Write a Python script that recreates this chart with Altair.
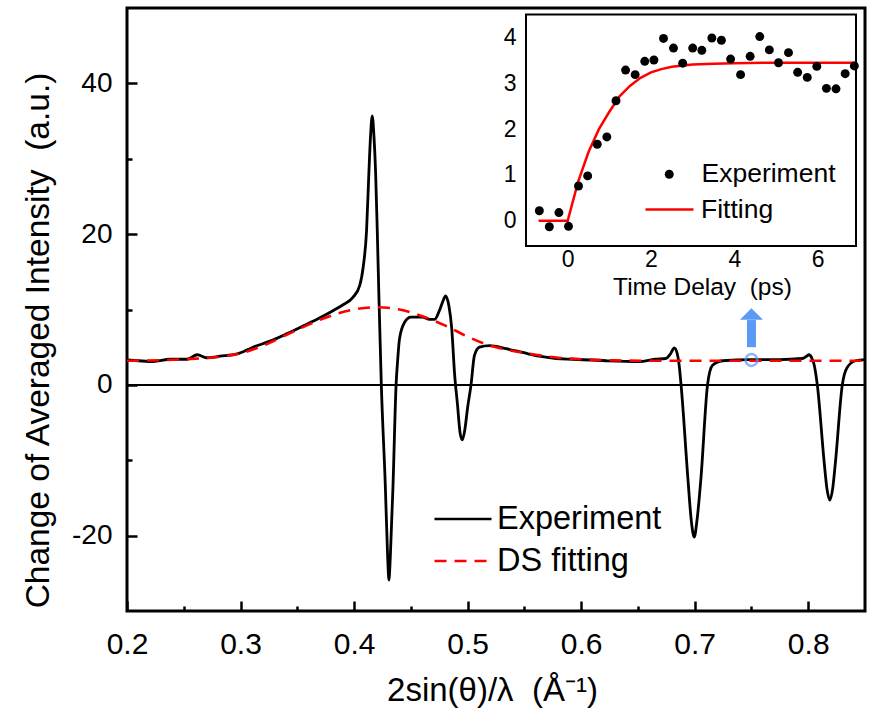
import altair as alt
import pandas as pd

# ---------------- main panel data ----------------
exp_q = [0.200, 0.210, 0.223, 0.238, 0.253, 0.262, 0.270, 0.282, 0.297, 0.311, 0.326, 0.341,
         0.355, 0.370, 0.381, 0.390, 0.399, 0.405, 0.408, 0.411, 0.413, 0.4145, 0.416, 0.4175,
         0.419, 0.4205, 0.422, 0.424, 0.4275, 0.4295, 0.4307, 0.432, 0.4343, 0.437, 0.4385,
         0.440, 0.4445, 0.450, 0.460, 0.4665, 0.471, 0.475, 0.478, 0.4806, 0.4835, 0.486,
         0.4885, 0.491, 0.4935, 0.4953, 0.4975, 0.500, 0.503, 0.506, 0.5105, 0.519, 0.534,
         0.5485, 0.563, 0.578, 0.5925, 0.622, 0.651, 0.665, 0.6745, 0.679, 0.682, 0.6845,
         0.686, 0.688, 0.694, 0.697, 0.6996, 0.702, 0.7055, 0.7113, 0.7157, 0.7245, 0.7494,
         0.7743, 0.7948, 0.7985, 0.8007, 0.803, 0.805, 0.808, 0.814, 0.8165, 0.819, 0.8215,
         0.824, 0.830, 0.8343, 0.8417, 0.850]
exp_v = [3.3, 3.2, 3.1, 3.4, 3.4, 4.0, 3.6, 3.8, 4.1, 5.0, 5.8, 6.8,
         7.8, 8.9, 9.8, 10.6, 11.6, 13.2, 15.6, 20.5, 28.0, 33.0, 35.7, 33.0,
         28.0, 20.0, 11.0, 0.0, -13.3, -22.5, -25.9, -22.5, -13.3, 0.0, 3.5,
         6.1, 8.3, 9.0, 9.0, 8.7, 8.7, 9.8, 11.0, 11.8, 10.5, 7.5,
         1.5, -2.5, -6.5, -7.3, -6.0, -3.0, 0.0, 3.9, 5.0, 5.2, 4.8,
         4.3, 3.8, 3.5, 3.4, 3.2, 3.1, 3.4, 3.5, 4.2, 4.9, 4.2,
         3.0, 0.0, -12.4, -18.0, -20.2, -18.0, -12.4, 0.0, 2.6, 3.2, 3.35,
         3.35, 3.5, 3.8, 4.0, 3.6, 2.8, 0.0, -10.2, -13.8, -15.3, -13.8,
         -10.2, 0.0, 2.3, 3.2, 3.35]
fit_q = [0.20, 0.25, 0.28, 0.30, 0.32, 0.34, 0.36, 0.38, 0.40, 0.42, 0.44, 0.46, 0.48,
         0.50, 0.52, 0.54, 0.56, 0.58, 0.60, 0.63, 0.66, 0.85]
fit_v = [3.2, 3.4, 3.7, 4.2, 5.2, 6.6, 8.0, 9.2, 10.0, 10.3, 10.0, 9.1, 7.9,
         6.4, 5.2, 4.5, 4.0, 3.6, 3.4, 3.25, 3.2, 3.2]
series_names = ["Experiment", "DS fitting"]
series_colors = ["#000000", "#ff0000"]
x_domain = [0.2, 0.85]
y_domain = [-30, 50]
x_major = [0.2, 0.3, 0.4, 0.5, 0.6, 0.7, 0.8]
x_minor = [0.25, 0.35, 0.45, 0.55, 0.65, 0.75]
y_major = [-20, 0, 20, 40]
y_minor = [-10, 10, 30]

# probe marker + arrow (annotation)
probe_q = [0.75]
probe_v = [3.3]
arrow_base = [5.0]
arrow_neck = [8.6]
arrow_tip = [9.4]

# ---------------- inset data ----------------
delay_t = [-0.68, -0.44, -0.21, 0.02, 0.26, 0.48, 0.71, 0.94, 1.16, 1.39, 1.62, 1.85, 2.07,
           2.30, 2.54, 2.76, 3.00, 3.22, 3.46, 3.69, 3.91, 4.15, 4.38, 4.61, 4.84, 5.06,
           5.30, 5.52, 5.75, 5.98, 6.21, 6.44, 6.66, 6.88]
delay_v = [0.22, -0.13, 0.18, -0.12, 0.76, 0.98, 1.67, 1.83, 2.62, 3.29, 3.19, 3.48, 3.51,
           3.98, 3.77, 3.44, 3.77, 3.72, 3.99, 3.94, 3.53, 3.19, 3.59, 4.02, 3.73, 3.45,
           3.67, 3.24, 3.13, 3.37, 2.89, 2.88, 3.21, 3.38]
dfit_t = [-0.7, 0.0, 0.25, 0.5, 0.75, 1.0, 1.25, 1.5, 1.75, 2.0, 2.25, 2.5, 3.0, 3.5, 4.0,
          5.0, 6.0, 6.92]
dfit_v = [0.0, 0.0, 0.85, 1.5, 2.0, 2.38, 2.72, 2.95, 3.12, 3.24, 3.31, 3.36, 3.41, 3.43,
          3.44, 3.45, 3.45, 3.45]
ix_domain = [-1, 6.92]
iy_domain = [-0.55, 4.5]
ix_major = [0, 2, 4, 6]
ix_minor = [1, 3, 5]
iy_major = [0, 1, 2, 3, 4]
iy_minor = [0.5, 1.5, 2.5, 3.5]

# ---------------- layout ----------------
W, H = 738, 603
FONT = "Liberation Sans"
NB = "\u00a0"
IX_RANGE = [399, 729]     # inset pixel range inside the plot area
IY_RANGE = [238, 6.6]
BLUE = "#5b9af4"

xs = alt.Scale(domain=x_domain, nice=False, zero=False)
ys = alt.Scale(domain=y_domain, nice=False, zero=False)
ixs = alt.Scale(domain=ix_domain, range=IX_RANGE, nice=False, zero=False)
iys = alt.Scale(domain=iy_domain, range=IY_RANGE, nice=False, zero=False)

exp_df = pd.DataFrame({"q": exp_q, "v": exp_v, "series": [series_names[0]] * len(exp_q)})
fit_df = pd.DataFrame({"q": fit_q, "v": fit_v, "series": [series_names[1]] * len(fit_q)})


def main_legend(ly):
    return alt.Legend(orient="none", legendX=306, legendY=ly, title=None,
                      symbolType="stroke", symbolSize=3249, symbolStrokeWidth=2.7,
                      labelFontSize=32.5, labelOffset=4, padding=0,
                      labelLimit=400, labelFont=FONT, labelColor="black")


exp_line = alt.Chart(exp_df).mark_line(strokeWidth=2.8, interpolate="monotone", clip=True).encode(
    x=alt.X("q:Q", scale=xs, axis=alt.Axis(
        orient="bottom", values=x_major, format=".1f", tickSize=10, offset=-10, tickWidth=2.5,
        domain=False, grid=False, labelFontSize=30, labelPadding=18, labelFont=FONT,
        labelFlush=False, labelOverlap=False,
        title="2sin(θ)/λ" + NB + NB + "(Å⁻¹)", titleFontSize=33, titleFont=FONT,
        titleFontWeight="normal", titleX=365, titleY=89, titleBaseline="middle",
        titleAlign="center")),
    y=alt.Y("v:Q", scale=ys, axis=alt.Axis(
        orient="left", values=y_major, tickSize=10, offset=-10, tickWidth=2.5,
        domain=False, grid=False, labelFontSize=28, labelPadding=15, labelFont=FONT,
        labelExpr="'' + datum.value", labelFlush=False, labelOverlap=False,
        title="Change of Averaged Intensity" + NB + NB + "(a.u.)", titleFontSize=33.5,
        titleFont=FONT, titleFontWeight="normal", titleX=-99, titleY=332,
        titleBaseline="middle", titleAlign="center", titleAngle=270)),
    color=alt.Color("series:N", scale=alt.Scale(domain=[series_names[0]], range=[series_colors[0]]),
                    legend=main_legend(481)),
)

fit_line = alt.Chart(fit_df).mark_line(strokeWidth=2.6, interpolate="monotone", clip=True).encode(
    x=alt.X("q:Q", scale=xs, axis=None),
    y=alt.Y("v:Q", scale=ys, axis=None),
    color=alt.Color("series:N", scale=alt.Scale(domain=[series_names[1]], range=[series_colors[1]]),
                    legend=main_legend(523)),
    strokeDash=alt.StrokeDash("series:N", scale=alt.Scale(domain=[series_names[1]], range=[[12, 8]]),
                              legend=main_legend(523)),
)

zero_rule = alt.Chart(pd.DataFrame({"z": [0]})).mark_rule(color="black", strokeWidth=2).encode(
    y=alt.Y("z:Q", scale=ys, axis=None)
)

minor_df = pd.DataFrame({"q": x_domain, "v": y_domain})
main_minor = alt.Chart(minor_df).mark_point(opacity=0).encode(
    x=alt.X("q:Q", scale=xs, axis=alt.Axis(orient="bottom", values=x_minor, tickSize=5, offset=-5,
                                           tickWidth=2.5, labels=False, domain=False, grid=False, title=None)),
    y=alt.Y("v:Q", scale=ys, axis=alt.Axis(orient="left", values=y_minor, tickSize=5, offset=-5,
                                           tickWidth=2.5, labels=False, domain=False, grid=False, title=None)),
)

probe_df = pd.DataFrame({"q": probe_q, "v": probe_v, "b": arrow_base, "n": arrow_neck, "t": arrow_tip})
probe_circle = alt.Chart(probe_df).mark_point(shape="circle", size=140, filled=False, stroke=BLUE,
                                              strokeWidth=2.5).encode(
    x=alt.X("q:Q", scale=xs, axis=None), y=alt.Y("v:Q", scale=ys, axis=None))
arrow_shaft = alt.Chart(probe_df).mark_rule(color=BLUE, strokeWidth=9).encode(
    x=alt.X("q:Q", scale=xs, axis=None), y=alt.Y("b:Q", scale=ys, axis=None), y2="n:Q")
arrow_head = alt.Chart(probe_df).mark_point(shape="M-1,0.5L0,-0.5L1,0.5Z", size=530, filled=True,
                                            color=BLUE, opacity=1).encode(
    x=alt.X("q:Q", scale=xs, axis=None), y=alt.Y("t:Q", scale=ys, axis=None))

# ---------------- inset layers ----------------
frame_df = pd.DataFrame({"x0": [ix_domain[0]], "x1": [ix_domain[1]],
                         "y0": [iy_domain[0]], "y1": [iy_domain[1]]})
inset_frame = alt.Chart(frame_df).mark_rect(fill="white", stroke="black", strokeWidth=2).encode(
    x=alt.X("x0:Q", scale=ixs, axis=None), x2="x1:Q",
    y=alt.Y("y0:Q", scale=iys, axis=None), y2="y1:Q")

pts_df = pd.DataFrame({"t": delay_t, "v": delay_v, "lab": ["Experiment"] * len(delay_t)})
inset_pts = alt.Chart(pts_df).mark_circle(size=80, opacity=1).encode(
    x=alt.X("t:Q", scale=ixs, axis=alt.Axis(
        orient="bottom", values=ix_major, tickSize=6, offset=-371, tickWidth=2, domain=False,
        grid=False, labelFontSize=23, labelPadding=2, labelFont=FONT, labelFlush=False,
        title="Time Delay" + NB + NB + "(ps)", titleFontSize=24.5, titleFont=FONT,
        titleFontWeight="normal", titleX=575, titleY=47, titleBaseline="middle",
        titleAlign="center")),
    y=alt.Y("v:Q", scale=iys, axis=alt.Axis(
        orient="left", values=iy_major, tickSize=6, offset=-405, tickWidth=2, domain=False,
        grid=False, labelFontSize=23, labelPadding=10, labelFont=FONT, labelFlush=False,
        title=None)),
    color=alt.Color("lab:N", scale=alt.Scale(domain=["Experiment"], range=["black"]),
                    legend=alt.Legend(orient="none", legendX=529, legendY=153, title=None,
                                      symbolType="circle", symbolSize=80, symbolStrokeWidth=0,
                                      labelFontSize=26.5, labelOffset=19, padding=0,
                                      labelLimit=400, labelFont=FONT, labelColor="black")),
)

dfit_df = pd.DataFrame({"t": dfit_t, "v": dfit_v, "lab": ["Fitting"] * len(dfit_t)})
inset_fit = alt.Chart(dfit_df).mark_line(strokeWidth=2.5).encode(
    x=alt.X("t:Q", scale=ixs, axis=None),
    y=alt.Y("v:Q", scale=iys, axis=None),
    color=alt.Color("lab:N", scale=alt.Scale(domain=["Fitting"], range=["#ff0000"]),
                    legend=alt.Legend(orient="none", legendX=517, legendY=176, title=None,
                                      symbolType="stroke", symbolSize=2304, symbolStrokeWidth=2.5,
                                      labelFontSize=26.5, labelOffset=6, padding=0,
                                      labelLimit=400, labelFont=FONT, labelColor="black")),
)

iminor_df = pd.DataFrame({"t": ix_domain, "v": iy_domain})
inset_minor = alt.Chart(iminor_df).mark_point(opacity=0).encode(
    x=alt.X("t:Q", scale=ixs, axis=alt.Axis(orient="bottom", values=ix_minor, tickSize=3.5, offset=-368.5,
                                            tickWidth=2, labels=False, domain=False, grid=False, title=None)),
    y=alt.Y("v:Q", scale=iys, axis=alt.Axis(orient="left", values=iy_minor, tickSize=3.5, offset=-402.5,
                                            tickWidth=2, labels=False, domain=False, grid=False, title=None)),
)
inset_right = alt.Chart(iminor_df).mark_point(opacity=0).encode(
    y=alt.Y("v:Q", scale=iys, axis=alt.Axis(orient="right", values=iy_major, tickSize=6, offset=-15,
                                            tickWidth=2, labels=False, domain=False, grid=False, title=None)),
)

chart = alt.layer(
    inset_frame, zero_rule, exp_line, fit_line, main_minor,
    probe_circle, arrow_shaft, arrow_head,
    inset_fit, inset_pts, inset_minor, inset_right,
).resolve_scale(
    x="independent", y="independent", color="independent", strokeDash="independent"
).resolve_legend(
    color="independent", strokeDash="independent"
).properties(
    width=W, height=H,
    autosize=alt.AutoSizeParams(type="none"),
    padding={"left": 127, "top": 8, "right": 4, "bottom": 98},
).configure(
    font=FONT, background="white"
).configure_view(
    stroke="black", strokeWidth=3
).configure_axis(
    labelColor="black", titleColor="black", tickColor="black", grid=False
)

chart.save("out.html", embed_options={"renderer": "svg", "actions": False})
